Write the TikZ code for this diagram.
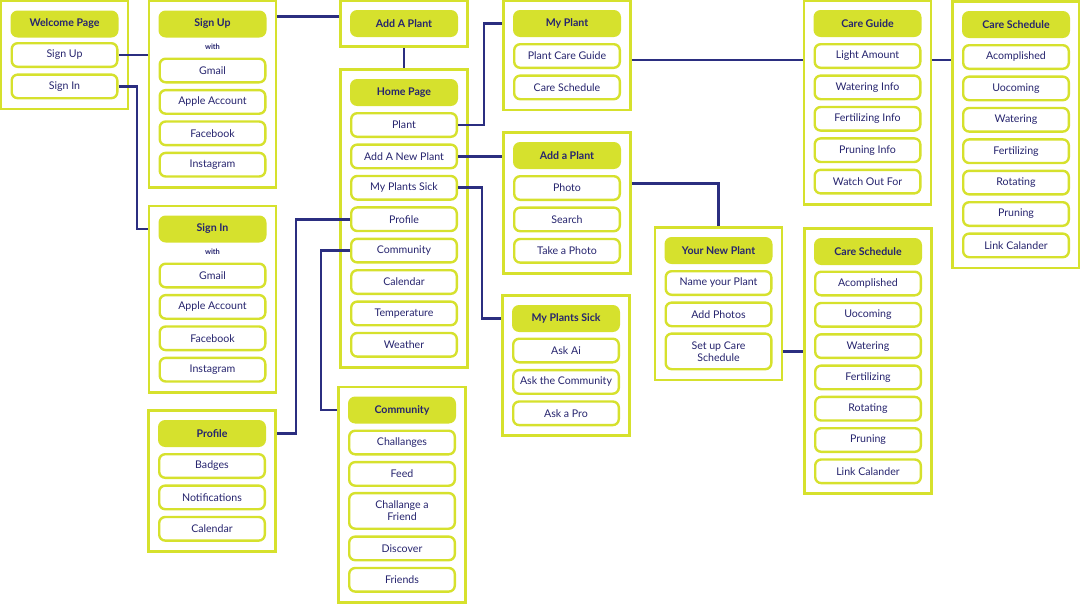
\documentclass[tikz,border=0pt]{standalone}
\usepackage{fontspec}
\setmainfont{Lato}
\usetikzlibrary{positioning,fit,calc}
\definecolor{lime}{RGB}{214,225,45}
\definecolor{navy}{RGB}{38,36,110}
\definecolor{wire}{RGB}{43,46,128}

\begin{document}
\begin{tikzpicture}[x=1pt, y=-1pt, node distance=31.4pt, on grid, semithick]
	\tikzstyle{screenItem} = [draw=lime, line width=2.4pt, rounded corners=6pt, fill=white, minimum width=105.6pt, minimum height=23.6pt, inner sep=1pt, align=center, text=navy, font={\fontsize{10.6}{12}\selectfont}]
	\tikzstyle{screenHead} = [screenItem, fill=lime, minimum height=24.6pt, font={\fontsize{10.6}{12}\selectfont\bfseries}]
	\tikzstyle{screenWith} = [text=navy, inner sep=0pt, font={\fontsize{7.5}{8}\selectfont\bfseries}]
	\tikzstyle{screen} = [draw=lime, line width=2.8pt, inner sep=9.5pt];
	\tikzstyle{flowEdge} = [draw=wire, line width=2.8pt];

	\useasboundingbox (0,0) rectangle (1080,605);

	\node[screenHead] (wpH) at (64.5,24) {Welcome Page};
	\node[screenItem] (wpSu) [below=31pt of wpH] {Sign Up};
	\node[screenItem] (wpSi) [below=of wpSu] {Sign In};
	\node[screen, fit=(wpH)(wpSi)] (wpP) {};

	\node[screenHead] (suH) at (212.5,24) {Sign Up};
	\node[screenWith] (suW) [below=23pt of suH] {with};
	\node[screenItem] (suGm) [below=23.5pt of suW] {Gmail};
	\node[screenItem] (suAp) [below=of suGm] {Apple Account};
	\node[screenItem] (suFb) [below=of suAp] {Facebook};
	\node[screenItem] (suIg) [below=of suFb] {Instagram};
	\node[screen, fit=(suH)(suIg)] (suP) {};

	\node[screenHead] (siH) at (212.5,229) {Sign In};
	\node[screenWith] (siW) [below=23pt of siH] {with};
	\node[screenItem] (siGm) [below=23.5pt of siW] {Gmail};
	\node[screenItem] (siAp) [below=of siGm] {Apple Account};
	\node[screenItem] (siFb) [below=of siAp] {Facebook};
	\node[screenItem] (siIg) [below=of siFb] {Instagram};
	\node[screen, fit=(siH)(siIg)] (siP) {};

	\node[screenHead] (prH) at (212,433.5) {Profile};
	\node[screenItem] (prBdg) [below=32.5pt of prH] {Badges};
	\node[screenItem] (prNot) [below=of prBdg] {Notifications};
	\node[screenItem] (prCal) [below=of prNot] {Calendar};
	\node[screen, fit=(prH)(prCal)] (prP) {};

	\node[screenHead] (apH) at (404,23.5) {Add A Plant};
	\node[screen, fit=(apH)] (apP) {};

	\node[screenHead] (hpH) at (404,92.5) {Home Page};
	\node[screenItem] (hpPlant) [below=32.5pt of hpH] {Plant};
	\node[screenItem] (hpAdd) [below=of hpPlant] {Add A New Plant};
	\node[screenItem] (hpSick) [below=of hpAdd] {My Plants Sick};
	\node[screenItem] (hpProf) [below=of hpSick] {Profile};
	\node[screenItem] (hpCom) [below=of hpProf] {Community};
	\node[screenItem] (hpCal) [below=of hpCom] {Calendar};
	\node[screenItem] (hpTemp) [below=of hpCal] {Temperature};
	\node[screenItem] (hpWth) [below=of hpTemp] {Weather};
	\node[screen, fit=(hpH)(hpWth)] (hpP) {};

	\node[screenHead] (cmH) at (402,410) {Community};
	\node[screenItem] (cmChl) [below=32.5pt of cmH] {Challanges};
	\node[screenItem] (cmFeed) [below=of cmChl] {Feed};
	\node[screenItem, minimum height=35.6pt] (cmFrd) [below=37pt of cmFeed] {Challange a\\Friend};
	\node[screenItem] (cmDisc) [below=37.5pt of cmFrd] {Discover};
	\node[screenItem] (cmFri) [below=of cmDisc] {Friends};
	\node[screen, fit=(cmH)(cmFri)] (cmP) {};

	\node[screenHead] (mpH) at (567,23.5) {My Plant};
	\node[screenItem] (mpGuide) [below=32.5pt of mpH] {Plant Care Guide};
	\node[screenItem] (mpSched) [below=of mpGuide] {Care Schedule};
	\node[screen, fit=(mpH)(mpSched)] (mpP) {};

	\node[screenHead] (aaH) at (567,155.5) {Add a Plant};
	\node[screenItem] (aaPhoto) [below=32.5pt of aaH] {Photo};
	\node[screenItem] (aaSrch) [below=of aaPhoto] {Search};
	\node[screenItem] (aaTake) [below=of aaSrch] {Take a Photo};
	\node[screen, fit=(aaH)(aaTake)] (aaP) {};

	\node[screenHead] (msH) at (566,318.5) {My Plants Sick};
	\node[screenItem] (msAi) [below=32pt of msH] {Ask Ai};
	\node[screenItem] (msCom) [below=of msAi] {Ask the Community};
	\node[screenItem] (msPro) [below=of msCom] {Ask a Pro};
	\node[screen, fit=(msH)(msPro)] (msP) {};

	\node[screenHead] (cgH) at (867.5,23.5) {Care Guide};
	\node[screenItem] (cgLight) [below=32.5pt of cgH] {Light Amount};
	\node[screenItem] (cgWat) [below=of cgLight] {Watering Info};
	\node[screenItem] (cgFert) [below=of cgWat] {Fertilizing Info};
	\node[screenItem] (cgPrun) [below=of cgFert] {Pruning Info};
	\node[screenItem] (cgWatch) [below=of cgPrun] {Watch Out For};
	\node[screen, fit=(cgH)(cgWatch)] (cgP) {};

	\node[screenHead] (csH) at (1016,24.5) {Care Schedule};
	\node[screenItem] (csAcc) [below=32.5pt of csH] {Acomplished};
	\node[screenItem] (csUp) [below=of csAcc] {Uocoming};
	\node[screenItem] (csWat) [below=of csUp] {Watering};
	\node[screenItem] (csFert) [below=of csWat] {Fertilizing};
	\node[screenItem] (csRot) [below=of csFert] {Rotating};
	\node[screenItem] (csPrun) [below=of csRot] {Pruning};
	\node[screenItem] (csLink) [below=of csPrun] {Link Calander};
	\node[screen, fit=(csH)(csLink)] (csP) {};

	\node[screenHead] (ynH) at (718.5,250.5) {Your New Plant};
	\node[screenItem] (ynName) [below=32.5pt of ynH] {Name your Plant};
	\node[screenItem] (ynPhotos) [below=of ynName] {Add Photos};
	\node[screenItem, minimum height=35.6pt] (ynSet) [below=37pt of ynPhotos] {Set up Care\\Schedule};
	\node[screen, fit=(ynH)(ynSet)] (ynP) {};

	\node[screenHead] (ssH) at (868,251.5) {Care Schedule};
	\node[screenItem] (ssAcc) [below=32pt of ssH] {Acomplished};
	\node[screenItem, node distance=31.3pt] (ssUp) [below=of ssAcc] {Uocoming};
	\node[screenItem, node distance=31.3pt] (ssWat) [below=of ssUp] {Watering};
	\node[screenItem, node distance=31.3pt] (ssFert) [below=of ssWat] {Fertilizing};
	\node[screenItem, node distance=31.3pt] (ssRot) [below=of ssFert] {Rotating};
	\node[screenItem, node distance=31.3pt] (ssPrun) [below=of ssRot] {Pruning};
	\node[screenItem, node distance=31.3pt] (ssLink) [below=of ssPrun] {Link Calander};
	\node[screen, fit=(ssH)(ssLink)] (ssP) {};

	\coordinate (apJ) at ($(apP.west)+(0,-7)$);
	\coordinate (mpJ) at ($(mpP.east |- mpGuide)+(0,4)$);
	\coordinate (cgJ) at ($(cgP.east |- cgLight)+(0,4)$);
	\coordinate (aaJ) at ($(aaP.east |- aaPhoto)+(0,-4.5)$);

	\draw[flowEdge] (wpSu.east) -- (wpSu.east -| suP.west);
	\draw[flowEdge] (wpSi.east) -- ++(18.5,0) |- (siP.west |- siH);
	\draw[flowEdge] (apJ) -- (apJ -| suP.east);
	\draw[flowEdge] (apP.south) -- (hpP.north);
	\draw[flowEdge] (hpPlant.east) -- ++(26,0) |- (mpP.west |- mpH);
	\draw[flowEdge] (hpAdd.east) -- (hpAdd.east -| aaP.west);
	\draw[flowEdge] (hpSick.east) -- ++(24,0) |- (msP.west |- msH);
	\draw[flowEdge] (hpProf.west) -- ++(-54,0) |- (prP.east |- prH);
	\draw[flowEdge] (hpCom.west) -- ++(-29,0) |- (cmP.west |- cmH);
	\draw[flowEdge] (mpJ) -- (mpJ -| cgP.west);
	\draw[flowEdge] (cgJ) -- (cgJ -| csP.west);
	\draw[flowEdge] (aaJ) -| (ynP.north);
	\draw[flowEdge] (ynSet.east -| ynP.east) -- (ynSet.east -| ssP.west);
\end{tikzpicture}
\end{document}
